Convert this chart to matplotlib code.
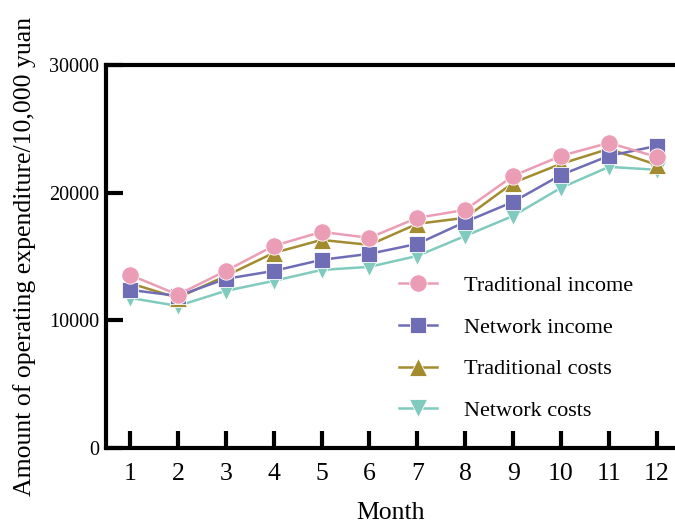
import numpy as np
import matplotlib
matplotlib.use('Agg')
import matplotlib.pyplot as plt

plt.rcParams['font.family'] = ['Liberation Serif', 'DejaVu Serif']

months = list(range(1, 13))
trad_income = [13550, 12000, 13860, 15820, 16920, 16450, 18020, 18640, 21300, 22870, 23890, 22790]
net_income = [12380, 11900, 13240, 13860, 14730, 15200, 15980, 17700, 19270, 21380, 22870, 23650]
trad_costs = [12900, 11750, 13470, 15270, 16290, 15900, 17550, 18020, 20760, 22250, 23420, 22170]
net_costs = [11750, 11120, 12300, 13080, 13940, 14180, 15040, 16600, 18170, 20370, 22010, 21780]

series = [
    ('Traditional income', trad_income, '#EC9DB6', 'o', 12.5),
    ('Network income', net_income, '#6F6DB6', 's', 12),
    ('Traditional costs', trad_costs, '#A28C2F', '^', 12.5),
    ('Network costs', net_costs, '#80CBBD', 'v', 12.5),
]

fig = plt.figure(figsize=(6.75, 5.27), dpi=100)
ax = fig.add_axes([0.157, 0.15, 0.843, 0.727])

for label, vals, color, marker, ms in reversed(series):
    ax.plot(months, vals, color=color, marker=marker, markersize=ms,
            linewidth=1.8, markeredgecolor='white', markeredgewidth=0.6,
            label=label)

ax.set_xlim(0.5, 12.38)
ax.set_ylim(0, 30000)
ax.set_xticks(months)
ax.set_yticks([0, 10000, 20000, 30000])

for s in ['left', 'bottom', 'top']:
    ax.spines[s].set_linewidth(3)
ax.spines['right'].set_visible(False)
ax.tick_params(axis='both', direction='in', length=12, width=3)
ax.tick_params(axis='x', labelsize=18.5, pad=11)
ax.tick_params(axis='y', labelsize=14.5, pad=5)

ax.set_xlabel('Month', fontsize=18.5, labelpad=12)
ax.set_ylabel('Amount of operating expenditure/10,000 yuan', fontsize=18.5, labelpad=9)

handles, labels = ax.get_legend_handles_labels()
ax.legend(handles[::-1], labels[::-1], loc='center left', bbox_to_anchor=(0.48, 0.26),
          frameon=False, fontsize=16, labelspacing=0.95, handlelength=1.7,
          handletextpad=1.2)

fig.savefig('out.png', dpi=100)
